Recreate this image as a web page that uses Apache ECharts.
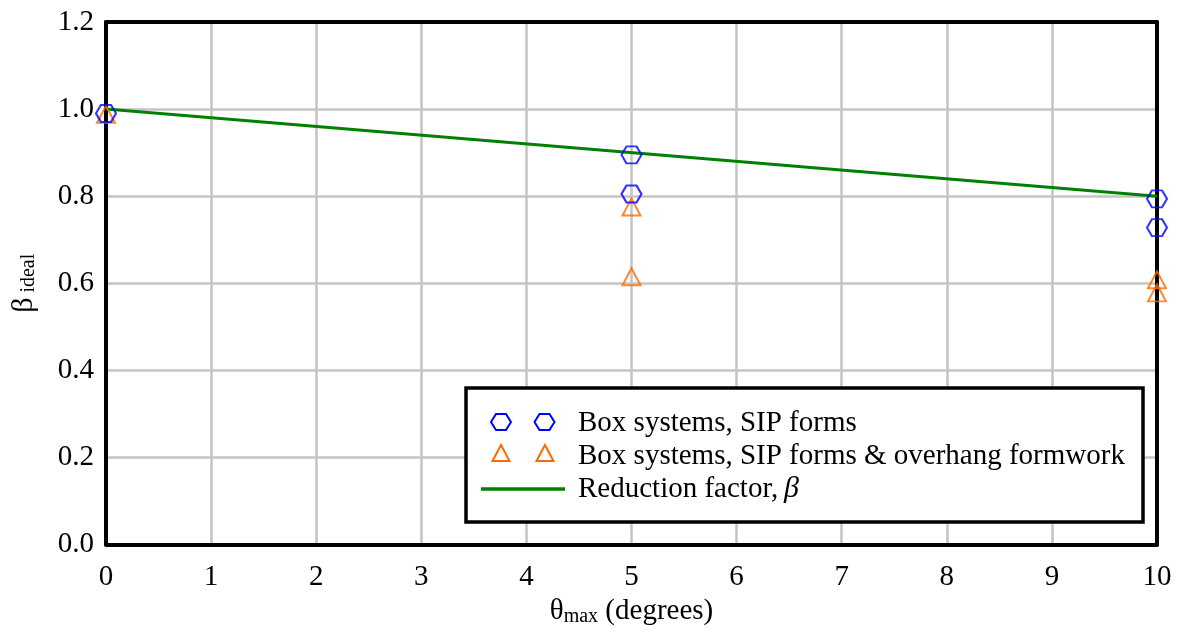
<!DOCTYPE html>
<html><head><meta charset="utf-8">
<script src="https://cdn.jsdelivr.net/npm/echarts@6/dist/echarts.min.js"></script>
<style>html,body{margin:0;padding:0;background:#fff}#c{width:1181px;height:632px}</style>
</head><body><div id="c"></div>
<script>
const xTicks = [0,1,2,3,4,5,6,7,8,9,10];
const yTicks = [0.0,0.2,0.4,0.6,0.8,1.0,1.2];
const boxX = [0, 5, 5, 10, 10];
const boxY = [0.99, 0.895, 0.805, 0.794, 0.728];
const overX = [0, 5, 5, 10, 10];
const overY = [0.988, 0.775, 0.615, 0.608, 0.578];
const betaX = [0, 10];
const betaY = [1.0, 0.8];
const legendNames = ['Box systems, SIP forms', 'Box systems, SIP forms & overhang formwork', 'Reduction factor, '];

const hex = 'path://M0,43.3 L25,0 L75,0 L100,43.3 L75,86.6 L25,86.6 Z';
const FONT = 'Liberation Serif';
const FS = 29;
const chart = echarts.init(document.getElementById('c'));
const L = 106, R = 24, T = 22, B = 87;
const zip = (a,b) => a.map((v,i)=>[v,b[i]]);
const frameLine = {show:true, onZero:false, lineStyle:{color:'#000', width:4}};
const axisCommon = {
  min: 0, axisTick:{show:false},
  axisLine: frameLine,
  splitLine:{show:true, lineStyle:{color:'#c4c4c4', width:2.5}},
};
const hidden = {axisLine: frameLine, axisTick:{show:false}, axisLabel:{show:false}, splitLine:{show:false}};
chart.setOption({
  animation:false,
  backgroundColor:'#fff',
  grid:{left:L, right:R, top:T, bottom:B},
  xAxis:[{...axisCommon, type:'value', max:10, interval:1, position:'bottom',
    axisLabel:{color:'#000', fontFamily:FONT, fontSize:FS, margin:18, formatter:v=>String(v)},
    name:'{t|θ}{s|max}{t| (degrees)}', nameLocation:'middle', nameGap:46,
    nameTextStyle:{rich:{t:{fontFamily:FONT,fontSize:FS,color:'#000'}, s:{fontFamily:FONT,fontSize:20,color:'#000',padding:[12,0,0,0]}}}
  },{type:'value', min:0, max:10, position:'top', ...hidden}],
  yAxis:[{...axisCommon, type:'value', max:1.2, interval:0.2, position:'left',
    axisLabel:{color:'#000', fontFamily:FONT, fontSize:FS, margin:12, formatter:v=>v.toFixed(1)},
    name:'{b|β}{s| ideal}', nameLocation:'middle', nameRotate:90, nameGap:67,
    nameTextStyle:{rich:{b:{fontFamily:FONT,fontSize:30,color:'#000'}, s:{fontFamily:FONT,fontSize:20,color:'#000',padding:[10,0,0,0]}}}
  },{type:'value', min:0, max:1.2, position:'right', ...hidden}],
  series:[
    {type:'line', data:zip(betaX,betaY), showSymbol:false, symbol:'none', lineStyle:{color:'#008000', width:3}, z:3},
    {type:'scatter', data:zip(overX,overY), symbol:'triangle', symbolSize:[18,17],
      itemStyle:{color:'rgba(0,0,0,0)', borderColor:'#ff6a00', borderWidth:2}, z:4},
    {type:'scatter', data:zip(boxX,boxY), symbol:hex, symbolSize:[20,17],
      itemStyle:{color:'rgba(0,0,0,0)', borderColor:'#0000ff', borderWidth:2}, z:5},
  ],
  graphic:[
    {type:'rect', shape:{x:466, y:388, width:677, height:134}, style:{fill:'#fff', stroke:'#000', lineWidth:3.5}, z:100},
    {type:'polygon', shape:{points:[[491,422],[496,414],[506,414],[511,422],[506,430],[496,430]]}, style:{fill:'none', stroke:'#0000ff', lineWidth:2}, z:101},
    {type:'polygon', shape:{points:[[534.5,422],[539.5,414],[549.5,414],[554.5,422],[549.5,430],[539.5,430]]}, style:{fill:'none', stroke:'#0000ff', lineWidth:2}, z:101},
    {type:'polygon', shape:{points:[[501,445],[492.5,461],[509.5,461]]}, style:{fill:'none', stroke:'#ff6a00', lineWidth:2}, z:101},
    {type:'polygon', shape:{points:[[545,445],[536.5,461],[553.5,461]]}, style:{fill:'none', stroke:'#ff6a00', lineWidth:2}, z:101},
    {type:'line', shape:{x1:481, y1:489, x2:565, y2:489}, style:{stroke:'#008000', lineWidth:3.5}, z:101},
    {type:'text', x:578, y:423, style:{text:legendNames[0], font:FS+'px "Liberation Serif"', fill:'#000', textVerticalAlign:'middle'}, z:101},
    {type:'text', x:578, y:456, style:{text:legendNames[1], font:FS+'px "Liberation Serif"', fill:'#000', textVerticalAlign:'middle'}, z:101},
    {type:'text', x:578, y:489, style:{text:legendNames[2], font:FS+'px "Liberation Serif"', fill:'#000', textVerticalAlign:'middle'}, z:101},
    {type:'text', x:784, y:489, style:{text:'β', font:'italic 30px "Liberation Serif"', fill:'#000', textVerticalAlign:'middle'}, z:101}
  ]
});
</script></body></html>
